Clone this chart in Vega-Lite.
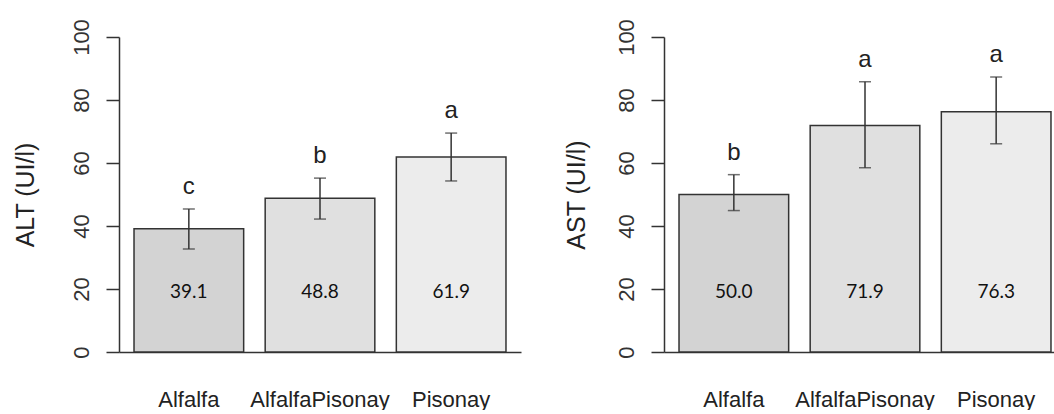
{
  "$schema": "https://vega.github.io/schema/vega-lite/v6.json",
  "background": "white",
  "padding": {"left": 12, "top": 18, "right": 0, "bottom": 0},
  "spacing": 42,
  "datasets": {
    "alt": [
      {"grupo": "Alfalfa", "valor": 39.1, "lo": 32.7, "hi": 45.4, "letra": "c"},
      {"grupo": "AlfalfaPisonay", "valor": 48.8, "lo": 42.2, "hi": 55.2, "letra": "b"},
      {"grupo": "Pisonay", "valor": 61.9, "lo": 54.3, "hi": 69.5, "letra": "a"}
    ],
    "ast": [
      {"grupo": "Alfalfa", "valor": 50.0, "lo": 44.9, "hi": 56.3, "letra": "b"},
      {"grupo": "AlfalfaPisonay", "valor": 71.9, "lo": 58.5, "hi": 85.8, "letra": "a"},
      {"grupo": "Pisonay", "valor": 76.3, "lo": 66.1, "hi": 87.3, "letra": "a"}
    ]
  },
  "hconcat": [
    {
      "width": 402,
      "height": 315,
      "data": {"name": "alt"},
      "encoding": {
        "x": {"field": "grupo", "type": "nominal", "sort": null,
              "scale": {"paddingInner": 0.164, "paddingOuter": 0.1145},
              "axis": {"title": null, "labelAngle": 0, "ticks": false, "domain": true, "domainColor": "#333", "domainWidth": 1.5, "labelFontSize": 22, "labelFont": "Liberation Sans", "labelColor": "#222", "labelPadding": 37}}
      },
      "layer": [
        {"mark": {"type": "bar", "stroke": "#333", "strokeWidth": 1.5},
         "encoding": {
           "y": {"field": "valor", "type": "quantitative",
                 "scale": {"domain": [0, 100], "nice": false},
                 "axis": {"title": "ALT (UI/l)", "values": [0, 20, 40, 60, 80, 100], "grid": false, "tickSize": 13, "tickWidth": 1.5, "tickColor": "#333", "domainColor": "#333", "domainWidth": 1.5, "labelAngle": -90, "labelAlign": "center", "labelBaseline": "alphabetic", "labelFlush": false, "labelPadding": 18, "labelFontSize": 22, "labelFont": "Liberation Sans", "labelColor": "#333", "titleFont": "Liberation Sans", "titleFontSize": 25, "titleFontWeight": "normal", "titleColor": "#222", "titlePadding": 32}},
           "color": {"field": "grupo", "type": "nominal", "legend": null,
                     "scale": {"domain": ["Alfalfa", "AlfalfaPisonay", "Pisonay"], "range": ["#d3d3d3", "#e0e0e0", "#ececec"]}}
         }},
        {"mark": {"type": "rule", "color": "#333", "strokeWidth": 1.5},
         "encoding": {"y": {"field": "lo", "type": "quantitative"}, "y2": {"field": "hi"}}},
        {"mark": {"type": "tick", "color": "#333", "thickness": 1.5, "size": 12},
         "encoding": {"y": {"field": "lo", "type": "quantitative"}}},
        {"mark": {"type": "tick", "color": "#333", "thickness": 1.5, "size": 12},
         "encoding": {"y": {"field": "hi", "type": "quantitative"}}},
        {"mark": {"type": "text", "dy": -22, "baseline": "middle", "fontSize": 24, "font": "Liberation Sans", "color": "#222"},
         "encoding": {"y": {"field": "hi", "type": "quantitative"}, "text": {"field": "letra"}}},
        {"mark": {"type": "text", "baseline": "middle", "fontSize": 19, "font": "Lato", "color": "#111"},
         "encoding": {"y": {"datum": 19, "type": "quantitative"}, "text": {"field": "valor", "type": "quantitative", "format": ".1f"}}}
      ]
    },
    {
      "width": 402,
      "height": 315,
      "data": {"name": "ast"},
      "encoding": {
        "x": {"field": "grupo", "type": "nominal", "sort": null,
              "scale": {"paddingInner": 0.164, "paddingOuter": 0.1145},
              "axis": {"title": null, "labelAngle": 0, "ticks": false, "domain": true, "domainColor": "#333", "domainWidth": 1.5, "labelFontSize": 22, "labelFont": "Liberation Sans", "labelColor": "#222", "labelPadding": 37}}
      },
      "layer": [
        {"mark": {"type": "bar", "stroke": "#333", "strokeWidth": 1.5},
         "encoding": {
           "y": {"field": "valor", "type": "quantitative",
                 "scale": {"domain": [0, 100], "nice": false},
                 "axis": {"title": "AST (UI/l)", "values": [0, 20, 40, 60, 80, 100], "grid": false, "tickSize": 13, "tickWidth": 1.5, "tickColor": "#333", "domainColor": "#333", "domainWidth": 1.5, "labelAngle": -90, "labelAlign": "center", "labelBaseline": "alphabetic", "labelFlush": false, "labelPadding": 18, "labelFontSize": 22, "labelFont": "Liberation Sans", "labelColor": "#333", "titleFont": "Liberation Sans", "titleFontSize": 25, "titleFontWeight": "normal", "titleColor": "#222", "titlePadding": 26}},
           "color": {"field": "grupo", "type": "nominal", "legend": null,
                     "scale": {"domain": ["Alfalfa", "AlfalfaPisonay", "Pisonay"], "range": ["#d3d3d3", "#e0e0e0", "#ececec"]}}
         }},
        {"mark": {"type": "rule", "color": "#333", "strokeWidth": 1.5},
         "encoding": {"y": {"field": "lo", "type": "quantitative"}, "y2": {"field": "hi"}}},
        {"mark": {"type": "tick", "color": "#333", "thickness": 1.5, "size": 12},
         "encoding": {"y": {"field": "lo", "type": "quantitative"}}},
        {"mark": {"type": "tick", "color": "#333", "thickness": 1.5, "size": 12},
         "encoding": {"y": {"field": "hi", "type": "quantitative"}}},
        {"mark": {"type": "text", "dy": -22, "baseline": "middle", "fontSize": 24, "font": "Liberation Sans", "color": "#222"},
         "encoding": {"y": {"field": "hi", "type": "quantitative"}, "text": {"field": "letra"}}},
        {"mark": {"type": "text", "baseline": "middle", "fontSize": 19, "font": "Lato", "color": "#111"},
         "encoding": {"y": {"datum": 19, "type": "quantitative"}, "text": {"field": "valor", "type": "quantitative", "format": ".1f"}}}
      ]
    }
  ],
  "config": {"view": {"stroke": null}}
}
